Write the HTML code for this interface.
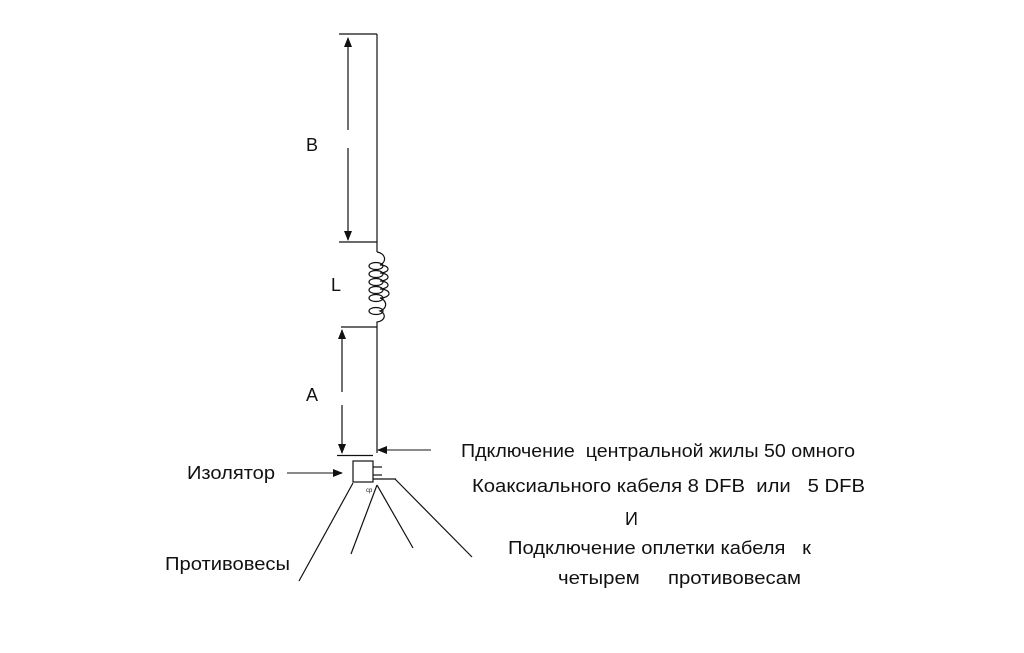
<!DOCTYPE html>
<html><head><meta charset="utf-8"><style>
html,body{margin:0;padding:0;background:#fff;}
svg{display:block;}
text{font-family:"Liberation Sans",Arial,sans-serif;fill:#111;white-space:pre;}
</style></head><body>
<svg width="1024" height="653" viewBox="0 0 1024 653" xmlns="http://www.w3.org/2000/svg" xml:space="preserve">
<defs>
<marker id="ah" markerWidth="10" markerHeight="10" refX="9" refY="4" orient="auto" markerUnits="userSpaceOnUse">
<path d="M0,0 L10,4 L0,8 Z" fill="#111"/></marker>
</defs>
<g stroke="#111" stroke-width="1.2" fill="none">
<line x1="339" y1="34" x2="377" y2="34"/>
<line x1="377" y1="34" x2="377" y2="252"/>
<line x1="339" y1="242" x2="377" y2="242"/>
<path d="M377,252 A9,7 0 0 1 380,265 A8,4 0 0 1 380,273 A8,4 0 0 1 380,281 A8,4 0 0 1 380,289 A8,4 0 0 1 380,298 A9,7 0 0 1 380,311 A9,6 0 0 1 377,322 L377,327"/>
<ellipse cx="376" cy="266" rx="7" ry="3.5"/>
<ellipse cx="376" cy="274" rx="7" ry="3.5"/>
<ellipse cx="376" cy="282" rx="7" ry="3.5"/>
<ellipse cx="376" cy="290" rx="7" ry="3.5"/>
<ellipse cx="376" cy="298" rx="7" ry="3.5"/>
<ellipse cx="376" cy="311" rx="7" ry="3.5"/>
<line x1="341" y1="327" x2="377" y2="327"/>
<line x1="377" y1="327" x2="377" y2="453"/>
<line x1="337" y1="455.5" x2="373" y2="455.5"/>
<line x1="348" y1="130" x2="348" y2="38" marker-end="url(#ah)"/>
<line x1="348" y1="148" x2="348" y2="240" marker-end="url(#ah)"/>
<line x1="342" y1="392" x2="342" y2="330" marker-end="url(#ah)"/>
<line x1="342" y1="405" x2="342" y2="453" marker-end="url(#ah)"/>
<line x1="431" y1="450" x2="378" y2="450" stroke="#444" marker-end="url(#ah)"/>
<line x1="287" y1="473" x2="342" y2="473" stroke="#444" marker-end="url(#ah)"/>
<rect x="353" y="461" width="20" height="21"/>
<line x1="373" y1="467" x2="382" y2="467"/>
<line x1="373" y1="475" x2="382" y2="475"/>
<line x1="373" y1="479" x2="396" y2="479"/>
<line x1="353" y1="483" x2="299" y2="581"/>
<line x1="377" y1="485" x2="351" y2="554"/>
<line x1="377" y1="485" x2="413" y2="548"/>
<line x1="395" y1="479" x2="472" y2="557"/>
</g>
<text x="366" y="492" font-size="6" fill="#666">ср</text>
<text x="306" y="151" font-size="18">B</text>
<text x="331" y="291" font-size="18">L</text>
<text x="306" y="401" font-size="18">A</text>
<text x="187" y="479" font-size="18" textLength="88" lengthAdjust="spacingAndGlyphs">Изолятор</text>
<text x="165" y="570" font-size="18" textLength="125" lengthAdjust="spacingAndGlyphs">Противовесы</text>
<text x="461" y="457" font-size="18" textLength="394" lengthAdjust="spacingAndGlyphs">Пдключение  центральной жилы 50 омного</text>
<text x="472" y="492" font-size="18" textLength="393" lengthAdjust="spacingAndGlyphs">Коаксиального кабеля 8 DFB  или   5 DFB</text>
<text x="625" y="525" font-size="18">И</text>
<text x="508" y="554" font-size="18" textLength="303" lengthAdjust="spacingAndGlyphs">Подключение оплетки кабеля   к</text>
<text x="558" y="584" font-size="18" textLength="243" lengthAdjust="spacingAndGlyphs">четырем     противовесам</text>
</svg>
</body></html>
